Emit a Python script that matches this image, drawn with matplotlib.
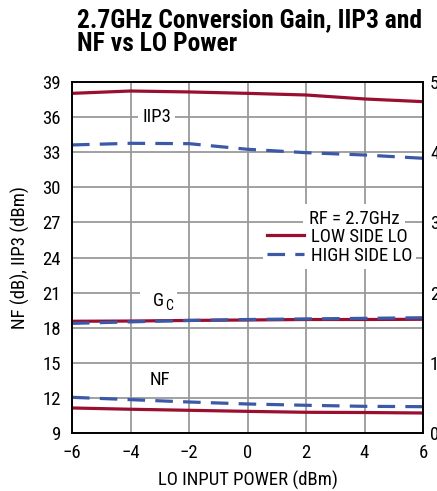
import os
import matplotlib
matplotlib.use("Agg")
import matplotlib.pyplot as plt
from matplotlib.lines import Line2D
from matplotlib import font_manager as fm

# ---------------------------------
# Data
# ---------------------------------
lo_power = [-6, -4, -2, 0, 2, 4, 6]

iip3_low = [38.03, 38.23, 38.15, 38.03, 37.89, 37.55, 37.32]
iip3_high = [33.62, 33.76, 33.73, 33.25, 32.96, 32.76, 32.48]

gc_low = [18.55, 18.57, 18.62, 18.66, 18.70, 18.70, 18.72]
gc_high = [18.37, 18.50, 18.62, 18.70, 18.75, 18.80, 18.85]

nf_low = [11.14, 11.03, 10.94, 10.85, 10.77, 10.75, 10.71]
nf_high = [12.05, 11.85, 11.65, 11.48, 11.37, 11.28, 11.25]

xticks = [-6, -4, -2, 0, 2, 4, 6]
yticks = [9, 12, 15, 18, 21, 24, 27, 30, 33, 36, 39]
right_ticks = [0, 10, 20, 30, 40, 50]

red = "#9a0f30"
blue = "#3b59a7"
grid = "#9a9a9a"


# ---------------------------------
# Look for a narrow / condensed face, the reference uses one
# ---------------------------------
def pick_font(bold):
    keys = ["liberationsansnarrow", "robotocondensed", "notosans-condensed",
            "opensans_condensed", "opensans-condensed", "dejavusanscondensed"]
    skip = ["italic", "oblique", "semi", "extra", "light", "medium", "black", "thin"]
    files = [f.fname for f in fm.fontManager.ttflist]
    for key in keys:
        for fn in files:
            b = os.path.basename(fn).lower()
            if key in b and (("bold" in b) == bold) and not any(s in b for s in skip):
                return fn
    return None


reg_file = pick_font(False)
bold_file = pick_font(True)

if reg_file:
    fs = 13.5
    fp = fm.FontProperties(fname=reg_file, size=fs)
    fp_sub = fm.FontProperties(fname=reg_file, size=10)
else:
    fs = 12
    fp = fm.FontProperties(family="Liberation Sans", size=fs)
    fp_sub = fm.FontProperties(family="Liberation Sans", size=9)
if bold_file:
    fp_title = fm.FontProperties(fname=bold_file, size=18.4)
else:
    fp_title = fm.FontProperties(family="Liberation Sans", weight="bold", size=16)

W, H = 437, 491
fig = plt.figure(figsize=(W / 100, H / 100), dpi=100)
ax = fig.add_axes([72 / W, 1 - 433 / H, (423 - 72) / W, (433 - 82) / H])

ax.set_xlim(-6, 6)
ax.set_ylim(9, 39)
ax.set_xticks(xticks)
ax.set_xticklabels([str(t).replace("-", "\u2212") for t in xticks])
ax.set_yticks(yticks)
ax.grid(True, color=grid, lw=1.3)
ax.tick_params(length=0, pad=8)
for lbl in ax.get_xticklabels() + ax.get_yticklabels():
    lbl.set_fontproperties(fp)
for s in ax.spines.values():
    s.set_linewidth(1.4)
    s.set_zorder(5)

solid = dict(color=red, lw=2.3, solid_capstyle="butt", zorder=3)
dashed = dict(color=blue, lw=2.3, dashes=(5.5, 3.2), zorder=4)

ax.plot(lo_power, iip3_low, **solid)
ax.plot(lo_power, iip3_high, **dashed)
ax.plot(lo_power, gc_low, **solid)
ax.plot(lo_power, gc_high, **dashed)
ax.plot(lo_power, nf_low, **solid)
ax.plot(lo_power, nf_high, **dashed)

box = dict(facecolor="white", edgecolor="none", pad=3)
ax.text(-3.1, 36, "IIP3", fontproperties=fp, ha="center", va="center", bbox=box, zorder=2)
ax.text(-3.05, 20.3, "G", fontproperties=fp, ha="center", va="center",
        bbox=dict(facecolor="white", edgecolor="none", boxstyle="square,pad=0.7"), zorder=2)
ax.annotate("C", xy=(-3.05, 20.3), xytext=(5, -4), textcoords="offset points",
            fontproperties=fp_sub, ha="left", va="center", zorder=3)
ax.text(-3.0, 13.5, "NF", fontproperties=fp, ha="center", va="center", zorder=2)

ax.set_xlabel("LO INPUT POWER (dBm)", fontproperties=fp, labelpad=6)
ax.set_ylabel("NF (dB), IIP3 (dBm)", fontproperties=fp, labelpad=9)

# right axis, clipped by the figure edge as in the reference
ax2 = ax.twinx()
ax2.set_ylim(0, 50)
ax2.set_yticks(right_ticks)
ax2.tick_params(length=0, pad=5)
for lbl in ax2.get_yticklabels():
    lbl.set_fontproperties(fp)
for s in ax2.spines.values():
    s.set_visible(False)

# legend
ax.text(2.1, 27.3, "RF = 2.7GHz", fontproperties=fp, ha="left", va="center",
        bbox=dict(facecolor="white", edgecolor="none", pad=4), zorder=6)
handles = [Line2D([], [], color=red, lw=2.3),
           Line2D([], [], color=blue, lw=2.3, dashes=(5.5, 3.2))]
leg = ax.legend(handles, ["LOW SIDE LO", "HIGH SIDE LO"], prop=fp,
                loc="upper left", bbox_to_anchor=(0.545, 0.595),
                frameon=True, fancybox=False, framealpha=1,
                handlelength=1.95, handletextpad=0.4, labelspacing=0.05,
                borderpad=0.2, borderaxespad=0)
leg.get_frame().set_edgecolor("none")
leg.set_zorder(6)

fig.text(77 / W, 1 - 8 / H, "2.7GHz Conversion Gain, IIP3 and\nNF vs LO Power",
         fontproperties=fp_title, ha="left", va="top", linespacing=1.0)

fig.savefig("out.png", dpi=100)
